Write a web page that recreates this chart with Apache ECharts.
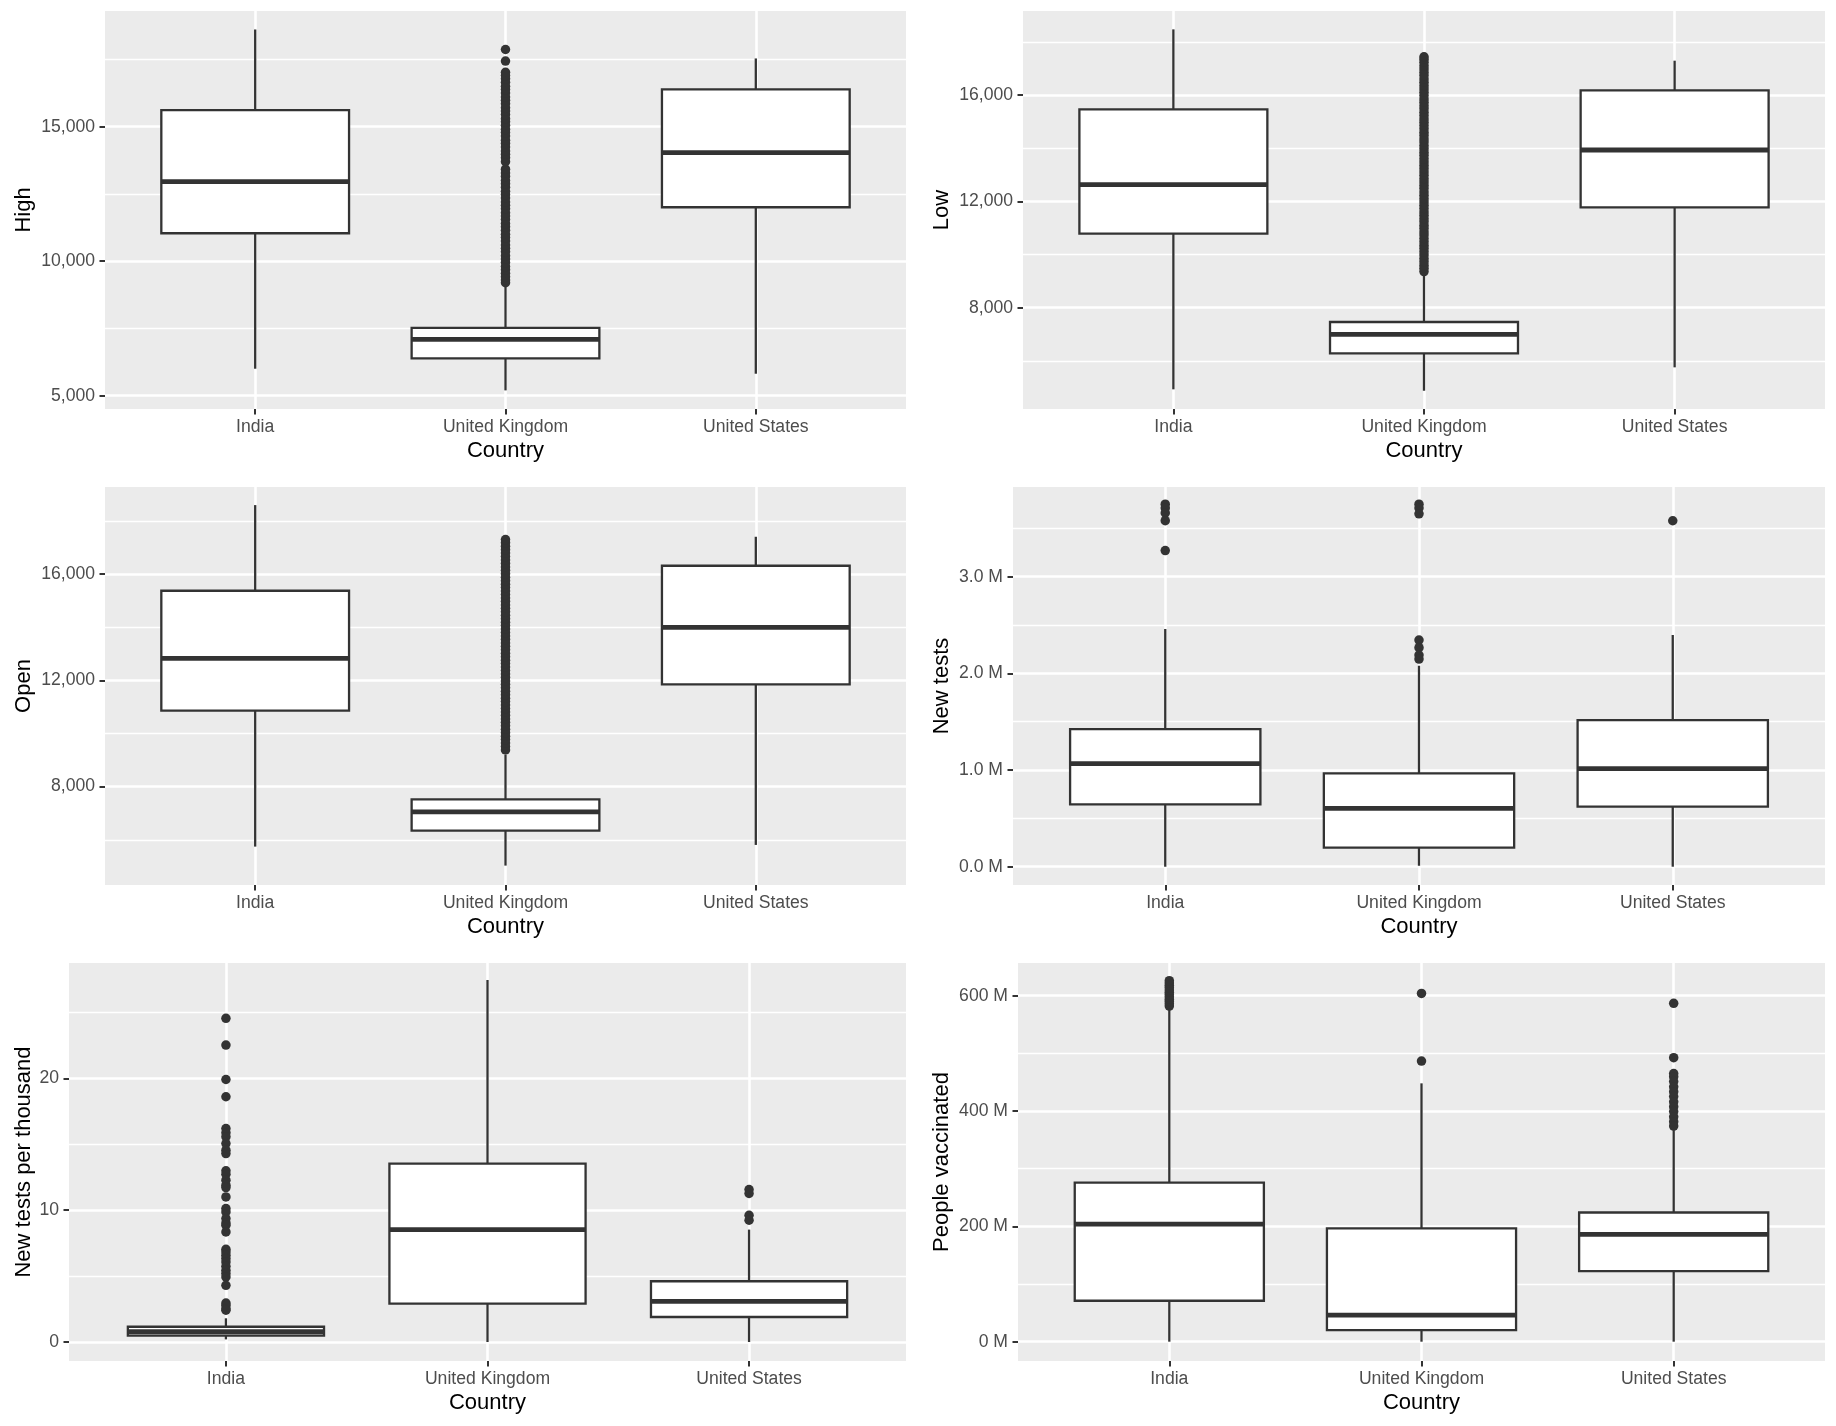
<!DOCTYPE html>
<html><head><meta charset="utf-8">
<script src="https://cdn.jsdelivr.net/npm/echarts@6/dist/echarts.min.js"></script>
<style>html,body{margin:0;padding:0;background:#fff}#c{width:1836px;height:1426px}</style>
</head><body><div id="c"></div>
<script>
// ---------------- data ----------------
const countries = ['India', 'United Kingdom', 'United States'];
const countryPos = [1, 2, 3];

// box stats per country: [lower whisker, Q1, median, Q3, upper whisker]
const highStats = [[6003, 11040, 12958, 15619, 18614], [5198, 6386, 7092, 7525, 9050], [5817, 12005, 14035, 16386, 17537]];
const highOutliers = [[], [9200, 9300, 9420, 9550, 9680, 9800, 9950, 10080, 10200, 10350, 10480, 10600, 10750, 10880, 11000, 11150, 11280, 11400, 11550, 11680, 11800, 11950, 12080, 12200, 12350, 12480, 12600, 12750, 12880, 13000, 13150, 13280, 13420, 13700, 13850, 13980, 14100, 14250, 14380, 14500, 14650, 14780, 14900, 15050, 15180, 15300, 15450, 15580, 15700, 15850, 15980, 16100, 16250, 16380, 16500, 16650, 16780, 16900, 17020, 17440, 17870], []];
const highTicks = [5000, 10000, 15000];
const highMinor = [7500, 12500, 17500];

const lowStats = [[4928, 10784, 12627, 15461, 18470], [4875, 6283, 6997, 7461, 9200], [5755, 11774, 13931, 16176, 17292]];
const lowOutliers = [[], [9360, 9480, 9600, 9730, 9850, 9980, 10100, 10230, 10350, 10480, 10600, 10730, 10850, 10980, 11100, 11230, 11350, 11480, 11600, 11730, 11850, 11980, 12100, 12230, 12350, 12480, 12600, 12730, 12850, 12980, 13100, 13230, 13350, 13480, 13600, 13730, 13850, 13980, 14100, 14230, 14350, 14480, 14600, 14730, 14850, 14980, 15100, 15230, 15350, 15480, 15600, 15730, 15850, 15980, 16100, 16230, 16350, 16480, 16600, 16730, 16850, 16980, 17100, 17230, 17350, 17440], []];
const lowTicks = [8000, 12000, 16000];
const lowMinor = [6000, 10000, 14000, 18000];

const openStats = [[5743, 10859, 12828, 15373, 18596], [5028, 6345, 7047, 7523, 9200], [5806, 11850, 13994, 16313, 17404]];
const openOutliers = [[], [9380, 9510, 9640, 9770, 9900, 10030, 10160, 10290, 10420, 10550, 10680, 10810, 10940, 11070, 11200, 11330, 11460, 11590, 11720, 11850, 11980, 12110, 12240, 12370, 12500, 12630, 12760, 12890, 13020, 13150, 13280, 13410, 13540, 13670, 13800, 13930, 14060, 14190, 14320, 14450, 14580, 14710, 14840, 14970, 15100, 15230, 15360, 15490, 15620, 15750, 15880, 16010, 16140, 16270, 16400, 16530, 16660, 16790, 16920, 17050, 17180, 17300], []];
const openTicks = [8000, 12000, 16000];
const openMinor = [6000, 10000, 14000, 18000];

const testsStats = [[0, 645000, 1066000, 1424000, 2459000], [10000, 197000, 603000, 966000, 2079000], [0, 621000, 1014000, 1517000, 2397000]];
const testsOutliers = [[3750000, 3710000, 3660000, 3580000, 3270000], [3750000, 3710000, 3650000, 2345000, 2266000, 2190000, 2148000], [3579000]];
const testsTicks = [0, 1000000, 2000000, 3000000];
const testsMinor = [500000, 1500000, 2500000, 3500000];

const perThouStats = [[0.2, 0.48, 0.78, 1.16, 1.8], [0, 2.91, 8.53, 13.54, 27.47], [0, 1.9, 3.09, 4.61, 8.53]];
const perThouOutliers = [[24.56, 22.53, 19.92, 18.61, 16.2, 15.87, 15.57, 15.06, 14.56, 14.3, 12.99, 12.73, 12.28, 11.9, 11.72, 11.01, 10.13, 9.87, 9.37, 9.04, 8.86, 8.35, 7.04, 6.84, 6.58, 6.33, 6.08, 5.75, 5.44, 5.19, 4.94, 4.3, 2.96, 2.78, 2.53, 2.41], [], [11.57, 11.27, 9.62, 9.24]];
const perThouTicks = [0, 10, 20];
const perThouMinor = [5, 15, 25];

const vaccStats = [[0, 71e6, 204e6, 276e6, 578e6], [0, 20e6, 46e6, 196.5e6, 448e6], [0, 122.5e6, 186e6, 224e6, 367e6]];
const vaccOutliers = [[582e6, 586e6, 590e6, 594e6, 598e6, 602e6, 606e6, 610e6, 614e6, 618e6, 622e6, 626e6], [604e6, 486.7e6], [586.7e6, 492.5e6, 465e6, 459.5e6, 451e6, 442e6, 433.5e6, 425e6, 416e6, 407.5e6, 399e6, 390e6, 381.5e6, 374e6]];
const vaccTicks = [0, 200e6, 400e6, 600e6];
const vaccMinor = [100e6, 300e6, 500e6];

// ---------------- layout / styles ----------------
const FONT = '"Liberation Sans", Arial, Helvetica, sans-serif';
const fmtComma = v => Math.round(v).toLocaleString('en-US');
const fmtM1 = v => (v / 1e6).toFixed(1) + ' M';
const fmtM0 = v => (v / 1e6).toFixed(0) + ' M';
const fmtPlain = v => String(Math.round(v));

const panels = [
  {name: 'High', stats: highStats, out: highOutliers, ticks: highTicks, minor: highMinor, fmt: fmtComma, range: [4506, 19301], rect: [105, 11, 801, 398]},
  {name: 'Low', stats: lowStats, out: lowOutliers, ticks: lowTicks, minor: lowMinor, fmt: fmtComma, range: [4188, 19161], rect: [1023, 11, 802, 398]},
  {name: 'Open', stats: openStats, out: openOutliers, ticks: openTicks, minor: openMinor, fmt: fmtComma, range: [4298, 19277], rect: [105, 487, 801, 398]},
  {name: 'New tests', stats: testsStats, out: testsOutliers, ticks: testsTicks, minor: testsMinor, fmt: fmtM1, range: [-189000, 3928000], rect: [1013, 487, 812, 398]},
  {name: 'New tests per thousand', stats: perThouStats, out: perThouOutliers, ticks: perThouTicks, minor: perThouMinor, fmt: fmtPlain, range: [-1.44, 28.76], rect: [69, 963, 837, 398]},
  {name: 'People vaccinated', stats: vaccStats, out: vaccOutliers, ticks: vaccTicks, minor: vaccMinor, fmt: fmtM0, range: [-33.5e6, 656.7e6], rect: [1018, 963, 807, 398]}
];

const BOX = '#333333';
const grids = [], xAxes = [], yAxes = [], series = [];

panels.forEach((p, i) => {
  const [l, t, w, h] = p.rect;
  const colLeft = l < 918 ? 0 : 918;
  grids.push({left: l, top: t, width: w, height: h, show: true, backgroundColor: '#EBEBEB', borderWidth: 0, containLabel: false, outerBoundsMode: 'none'});
  xAxes.push({
    type: 'value', gridIndex: i, min: 0.4, max: 3.6, position: 'bottom',
    name: 'Country', nameLocation: 'middle', nameGap: 31, nameMoveOverlap: false,
    nameTextStyle: {fontFamily: FONT, fontSize: 22, color: '#000000'},
    axisLine: {show: false, onZero: false},
    axisTick: {show: true, length: 5.5, customValues: countryPos, lineStyle: {color: BOX, width: 2}},
    axisLabel: {customValues: countryPos, margin: 9, fontFamily: FONT, fontSize: 17.6, color: '#4D4D4D',
      formatter: v => countries[Math.round(v) - 1]},
    splitLine: {show: true, lineStyle: {color: '#FFFFFF', width: 2.6}}
  });
  // major y axis
  yAxes.push({
    type: 'value', gridIndex: i, min: p.range[0], max: p.range[1], position: 'left',
    name: p.name, nameLocation: 'middle', nameGap: l - colLeft - 35, nameMoveOverlap: false,
    nameTextStyle: {fontFamily: FONT, fontSize: 22, color: '#000000'},
    axisLine: {show: false, onZero: false},
    axisTick: {show: true, length: 5.5, customValues: p.ticks, lineStyle: {color: BOX, width: 2}},
    axisLabel: {customValues: p.ticks, margin: 10, fontFamily: FONT, fontSize: 17.6, color: '#4D4D4D', formatter: p.fmt},
    splitLine: {show: true, lineStyle: {color: '#FFFFFF', width: 2.6}}
  });
  // minor grid lines
  yAxes.push({
    type: 'value', gridIndex: i, min: p.range[0], max: p.range[1], position: 'left',
    axisLine: {show: false, onZero: false},
    axisTick: {show: false, customValues: p.minor},
    axisLabel: {show: false, customValues: p.minor},
    splitLine: {show: true, lineStyle: {color: '#FFFFFF', width: 1.3}}
  });
  const outData = [];
  p.out.forEach((arr, ci) => arr.forEach(v => outData.push([countryPos[ci], v])));
  series.push({
    type: 'scatter', xAxisIndex: i, yAxisIndex: 2 * i, data: outData,
    symbol: 'circle', symbolSize: 9.5, itemStyle: {color: BOX, opacity: 1}, silent: true, z: 2
  });
  series.push({
    type: 'custom', xAxisIndex: i, yAxisIndex: 2 * i, z: 3, silent: true,
    encode: {x: 0, y: [1, 2, 3, 4, 5]},
    data: p.stats.map((s, ci) => [countryPos[ci]].concat(s)),
    renderItem: function (params, api) {
      const x = api.value(0);
      const pLo = api.coord([x, api.value(1)]);
      const pQ1 = api.coord([x, api.value(2)]);
      const pMed = api.coord([x, api.value(3)]);
      const pQ3 = api.coord([x, api.value(4)]);
      const pHi = api.coord([x, api.value(5)]);
      const half = api.size([0.75, 0])[0] / 2;
      const lw = 2.3;
      return {type: 'group', children: [
        {type: 'line', shape: {x1: pLo[0], y1: pLo[1], x2: pQ1[0], y2: pQ1[1]}, style: {stroke: BOX, lineWidth: lw}},
        {type: 'line', shape: {x1: pQ3[0], y1: pQ3[1], x2: pHi[0], y2: pHi[1]}, style: {stroke: BOX, lineWidth: lw}},
        {type: 'rect', shape: {x: pQ1[0] - half, y: pQ3[1], width: 2 * half, height: pQ1[1] - pQ3[1]}, style: {fill: '#FFFFFF', stroke: BOX, lineWidth: lw}},
        {type: 'line', shape: {x1: pMed[0] - half, y1: pMed[1], x2: pMed[0] + half, y2: pMed[1]}, style: {stroke: BOX, lineWidth: 4.8}}
      ]};
    }
  });
});

const chart = echarts.init(document.getElementById('c'), null, {renderer: 'canvas'});
chart.setOption({
  animation: false,
  backgroundColor: '#FFFFFF',
  textStyle: {fontFamily: FONT},
  grid: grids, xAxis: xAxes, yAxis: yAxes, series: series
});
</script>
</body></html>
